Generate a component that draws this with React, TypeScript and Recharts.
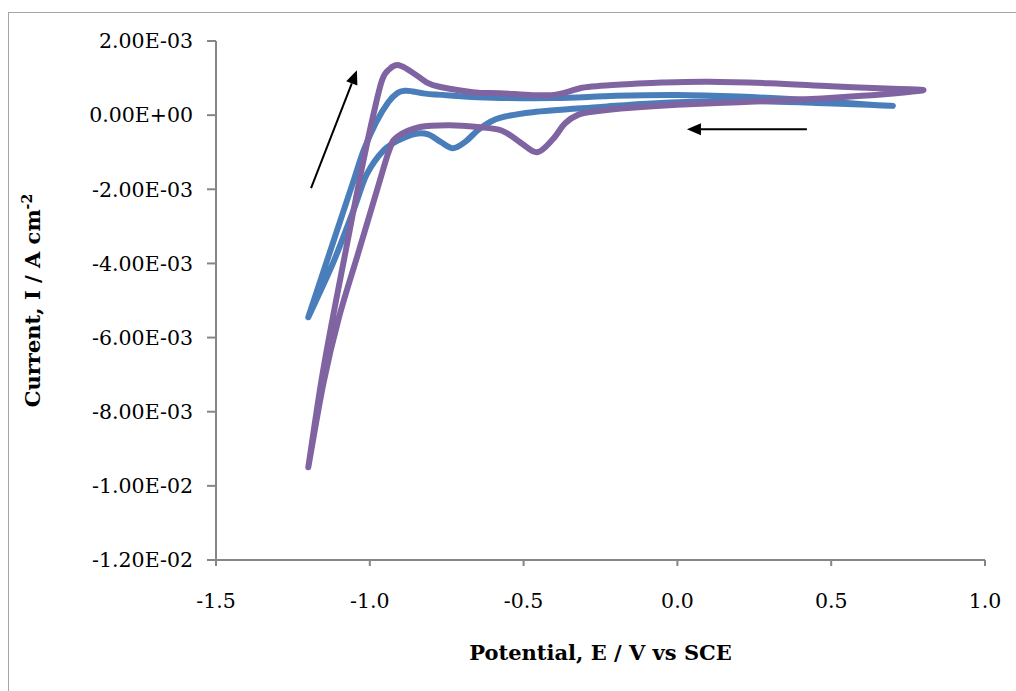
import { LineChart, Line, XAxis, YAxis, ReferenceLine } from "recharts";

// potential (V vs SCE) and current (x 1e-3 A cm-2), one closed loop per scan
const blueE = [-1.2, -1.11, -1.05, -1.02, -0.98, -0.94, -0.91, -0.885, -0.86, -0.82, -0.74, -0.6, -0.4, -0.2, 0.0, 0.2, 0.4, 0.55, 0.65, 0.7, 0.62, 0.45, 0.25, 0.05, -0.1, -0.25, -0.47, -0.58, -0.64, -0.69, -0.73, -0.77, -0.81, -0.85, -0.9, -0.955, -1.01, -1.05, -1.12, -1.2];
const blueI = [-5.45, -3.2, -1.7, -0.95, -0.2, 0.35, 0.6, 0.66, 0.64, 0.58, 0.53, 0.47, 0.46, 0.52, 0.54, 0.5, 0.42, 0.33, 0.27, 0.25, 0.28, 0.33, 0.38, 0.36, 0.31, 0.22, 0.08, -0.08, -0.35, -0.72, -0.89, -0.72, -0.52, -0.5, -0.65, -0.95, -1.6, -2.5, -4.0, -5.45];

const purpleE = [-1.2, -1.158, -1.12, -1.078, -1.03, -0.99, -0.96, -0.935, -0.91, -0.88, -0.84, -0.795, -0.665, -0.577, -0.47, -0.41, -0.36, -0.31, -0.25, -0.15, -0.05, 0.1, 0.3, 0.5, 0.7, 0.8, 0.72, 0.6, 0.4, 0.2, 0.0, -0.15, -0.27, -0.32, -0.365, -0.405, -0.456, -0.51, -0.57, -0.65, -0.74, -0.837, -0.912, -0.937, -0.97, -1.035, -1.1, -1.15, -1.2];
const purpleI = [-9.5, -7.2, -5.45, -3.65, -1.6, -0.05, 0.95, 1.25, 1.35, 1.25, 1.03, 0.81, 0.62, 0.59, 0.54, 0.54, 0.62, 0.74, 0.79, 0.84, 0.88, 0.9, 0.86, 0.78, 0.71, 0.68, 0.6, 0.52, 0.42, 0.35, 0.28, 0.2, 0.1, 0.02, -0.22, -0.65, -1.0, -0.74, -0.42, -0.32, -0.27, -0.32, -0.59, -0.95, -1.84, -3.65, -5.45, -7.2, -9.5];

const xTicks = [-1.5, -1.0, -0.5, 0.0, 0.5, 1.0];
const yTicks = [2, 0, -2, -4, -6, -8, -10, -12];

// scan direction arrows: [tail, tip]
const upArrow = [{ x: -1.191, y: -1.97 }, { x: -1.042, y: 1.21 }];
const backArrow = [{ x: 0.421, y: -0.38 }, { x: 0.031, y: -0.38 }];

const blueData = blueE.map((e, i) => ({ E: e, I: blueI[i] }));
const purpleData = purpleE.map((e, i) => ({ E: e, I: purpleI[i] }));

const AXIS = "#868686";
const FONT = "'DejaVu Serif', serif";

// smooth line through every point, like a spreadsheet's smoothed scatter
const smooth = (context: any) => {
  let pts: number[][] = [];
  return {
    areaStart() {},
    areaEnd() {},
    lineStart() {
      pts = [];
    },
    point(x: number, y: number) {
      pts.push([+x, +y]);
    },
    lineEnd() {
      const n = pts.length;
      if (!n) return;
      context.moveTo(pts[0][0], pts[0][1]);
      for (let i = 0; i < n - 1; i++) {
        const p0 = pts[Math.max(i - 1, 0)];
        const p1 = pts[i];
        const p2 = pts[i + 1];
        const p3 = pts[Math.min(i + 2, n - 1)];
        context.bezierCurveTo(
          p1[0] + (p2[0] - p0[0]) / 6,
          p1[1] + (p2[1] - p0[1]) / 6,
          p2[0] - (p3[0] - p1[0]) / 6,
          p2[1] - (p3[1] - p1[1]) / 6,
          p2[0],
          p2[1]
        );
      }
    },
  };
};

const sci = (v: number) => {
  const [m, ex] = (v * 1e-3).toExponential(2).split("e");
  const n = Math.abs(parseInt(ex, 10));
  return `${m}E${ex[0] === "-" ? "-" : "+"}${n < 10 ? "0" : ""}${n}`;
};

const Arrow = (props: any) => {
  const { x1, y1, x2, y2 } = props;
  const a = Math.atan2(y2 - y1, x2 - x1);
  const len = 14;
  const half = 6;
  const bx = x2 - len * Math.cos(a);
  const by = y2 - len * Math.sin(a);
  const nx = -Math.sin(a) * half;
  const ny = Math.cos(a) * half;
  return (
    <g>
      <line x1={x1} y1={y1} x2={bx} y2={by} stroke="#000" strokeWidth={2} />
      <polygon points={`${x2},${y2} ${bx + nx},${by + ny} ${bx - nx},${by - ny}`} fill="#000" />
    </g>
  );
};

const App = () => {
  return (
    <div style={{ position: "fixed", left: 0, top: 0, width: 1016, height: 691, overflow: "hidden", background: "#fff" }}>
      {/* outer frame */}
      <div style={{ position: "absolute", left: 8, top: 12, width: 1100, height: 800, border: "1.5px solid #a6a6a6" }} />

      <div style={{ position: "absolute", left: 0, top: 0 }}>
        <LineChart width={1016} height={691} margin={{ top: 41, right: 31, left: 0, bottom: 71 }}>
          <XAxis
            dataKey="E"
            type="number"
            domain={[-1.5, 1.0]}
            ticks={xTicks}
            tickFormatter={(v: number) => v.toFixed(1)}
            height={60}
            tickSize={6}
            tickMargin={27}
            axisLine={{ stroke: AXIS, strokeWidth: 2 }}
            tickLine={{ stroke: AXIS, strokeWidth: 2 }}
            tick={{ fontSize: 20.5, fill: "#000", fontFamily: FONT }}
            allowDataOverflow
            label={{
              content: ({ viewBox }: any) => (
                <text
                  x={viewBox.x + viewBox.width / 2}
                  y={660}
                  textAnchor="middle"
                  fontFamily={FONT}
                  fontWeight="bold"
                  fontSize={21}
                  fill="#000"
                >
                  Potential, E / V vs SCE
                </text>
              ),
            }}
          />
          <YAxis
            dataKey="I"
            type="number"
            domain={[-12, 2]}
            ticks={yTicks}
            tickFormatter={sci}
            width={216}
            tickSize={9}
            tickMargin={14}
            axisLine={{ stroke: AXIS, strokeWidth: 2 }}
            tickLine={{ stroke: AXIS, strokeWidth: 2 }}
            tick={{ fontSize: 20.5, fill: "#000", fontFamily: FONT }}
            allowDataOverflow
            label={{
              content: ({ viewBox }: any) => {
                const cx = 40;
                const cy = viewBox.y + viewBox.height / 2;
                return (
                  <text
                    x={cx}
                    y={cy}
                    transform={`rotate(-90 ${cx} ${cy})`}
                    textAnchor="middle"
                    fontFamily={FONT}
                    fontWeight="bold"
                    fontSize={21}
                    fill="#000"
                  >
                    Current, I / A cm
                    <tspan dy={-8} fontSize={14}>-2</tspan>
                  </text>
                );
              },
            }}
          />

          <Line
            data={blueData}
            dataKey="I"
            type={smooth as any}
            stroke="#4a7ebb"
            strokeWidth={6}
            strokeLinecap="round"
            strokeLinejoin="round"
            dot={false}
            activeDot={false}
            isAnimationActive={false}
          />
          <Line
            data={purpleData}
            dataKey="I"
            type={smooth as any}
            stroke="#8064a2"
            strokeWidth={6}
            strokeLinecap="round"
            strokeLinejoin="round"
            dot={false}
            activeDot={false}
            isAnimationActive={false}
          />

          <ReferenceLine segment={upArrow} shape={Arrow} />
          <ReferenceLine segment={backArrow} shape={Arrow} />
        </LineChart>
      </div>
    </div>
  );
};

export default App;
